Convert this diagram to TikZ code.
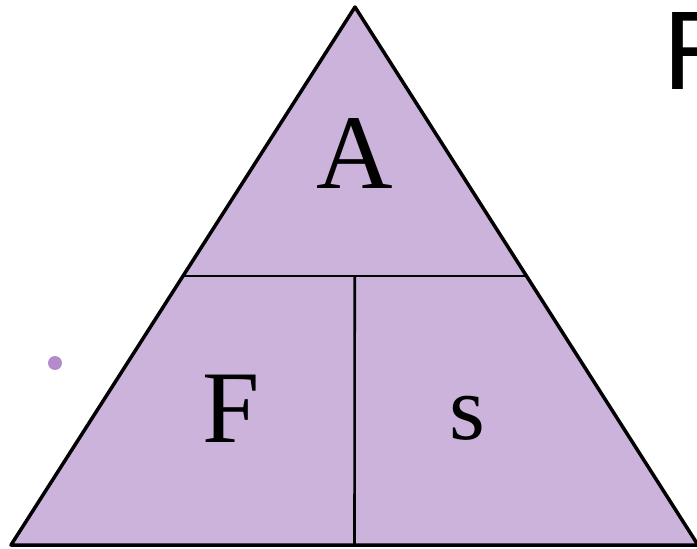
\documentclass[tikz,border=0pt]{standalone}
\usepackage{fontspec}
\setmainfont{Liberation Serif}
\newfontfamily\headfont{Carlito}
\usetikzlibrary{calc}
\definecolor{trifill}{HTML}{CBB3DC}
\definecolor{dotfill}{HTML}{B48CCB}

\begin{document}
\begin{tikzpicture}[x=1pt, y=-1pt,
  outline/.style={draw=black, line width=3.5pt, line join=round, fill=trifill},
  divider/.style={draw=black, line width=2.2pt},
  letter/.style={inner sep=0pt, text=black}
]
\useasboundingbox (0,0) rectangle (697,549);
\coordinate (apex) at (355,7);
\coordinate (bl) at (11,545);
\coordinate (br) at (698,545);
\coordinate (ml) at ($(apex)!0.5!(bl)$);
\coordinate (mr) at ($(apex)!0.5!(br)$);
\coordinate (mb) at ($(bl)!0.5!(br)$);
\coordinate (mc) at ($(ml)!0.5!(mr)$);
\draw[outline] (apex) -- (br) -- (bl) -- cycle;
\draw[divider] (ml) -- (mr);
\draw[divider, line width=2.6pt] (mc) -- (mb);
\node[letter, font=\fontsize{106}{106}\selectfont] (a) at (355,154) {A};
\node[letter, font=\fontsize{103}{103}\selectfont] (f) at (231,409) {F};
\node[letter, font=\fontsize{92}{92}\selectfont] (s) at (467,418) {s};
\node[letter, anchor=base west, font=\headfont\fontsize{120}{120}\selectfont] (title) at (664,89) {F};
\fill[dotfill] (55,363) circle (7);
\end{tikzpicture}
\end{document}
